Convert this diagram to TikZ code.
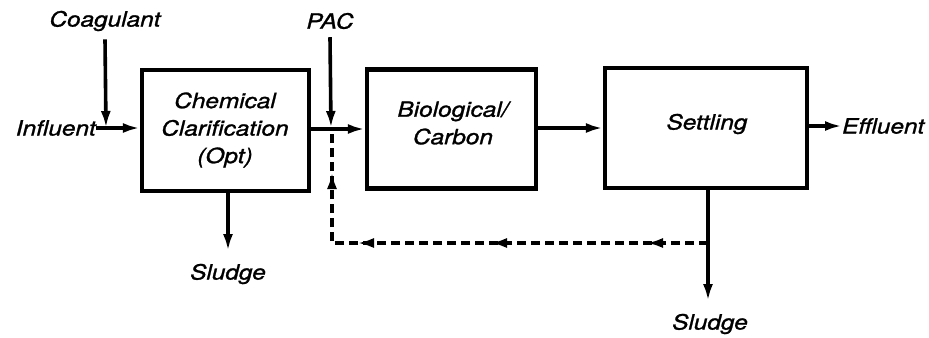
\documentclass[tikz,border=0pt]{standalone}
\usepackage{fontspec}
\newfontfamily\diafont{TeX Gyre Heros}[FakeStretch=1.16,FakeBold=1.2]
\usetikzlibrary{arrows.meta,decorations.markings}
\begin{document}
\begin{tikzpicture}[x=1bp,y=-1bp,
  every node/.style={font=\diafont\itshape\fontsize{21bp}{27.5bp}\selectfont, inner sep=0pt},
  proc/.style={draw, line width=4.2bp},
  lbl/.style={align=center},
  tip/.style={Latex[length=17bp,width=10bp]},
  flow/.style={line width=3.6bp, -{Latex[length=17bp,width=10bp]}},
  recyc/.style={line width=3.6bp, dash pattern=on 9bp off 5bp,
    postaction={decorate},
    decoration={markings,
      mark=at position 62bp with {\arrow{Latex[length=17bp,width=10bp]}},
      mark=at position 218bp with {\arrow{Latex[length=17bp,width=10bp]}},
      mark=at position 351bp with {\arrow{Latex[length=17bp,width=10bp]}},
      mark=at position 447bp with {\arrow{Latex[length=17bp,width=10bp]}}}}
]
\useasboundingbox (0,0) rectangle (929,337);
% process boxes
\node[proc, minimum width=167bp, minimum height=121bp] (c1) at (225.5,130.5) {};
\node[proc, minimum width=169bp, minimum height=119bp] (c2) at (451.5,129) {};
\node[proc, minimum width=202bp, minimum height=120bp] (c3) at (706,128) {};
\node[lbl] (t1) at (225,130) {Chemical\\Clarification\\(Opt)};
\node[lbl] (t2) at (453,123) {Biological/\\Carbon};
\node[lbl] (t3) at (707,124) {Settling};
% labels
\node[lbl, anchor=east] (inf) at (96,128) {Influent};
\node[lbl] (coag) at (105,21) {Coagulant};
\node[lbl] (pac) at (330,21) {PAC};
\node[lbl, anchor=west] (eff) at (842,126) {Effluent};
\node[lbl] (s1) at (228,274) {Sludge};
\node[lbl] (s2) at (710,324) {Sludge};
% junction coordinates
\coordinate (jin) at (106,128);
\coordinate (jpac) at (331,128);
\coordinate (s1end) at (228,251);
\coordinate (s2end) at (708,301);
\coordinate (r) at (708,243);
\coordinate (rc) at (332,243);
\coordinate (rtop) at (332,133);
% connectors
\draw[flow] (inf.east) -- (c1.west |- inf.east);
\draw[flow] (coag.south) ++(0,8) -- (jin);
\draw[flow] (pac.south) ++(0,8) -- (jpac);
\draw[flow] (c1.east |- c2.west) -- (c2.west);
\draw[flow] (c2.east |- c3.west) -- (c3.west);
\draw[flow] (c3.east |- eff.west) -- (eff.west);
\draw[flow] (c1.south -| s1end) -- (s1end);
\draw[flow] (c3.south -| s2end) -- (s2end);
\draw[recyc] (r) -- (rc) -- (rtop);
\end{tikzpicture}
\end{document}
